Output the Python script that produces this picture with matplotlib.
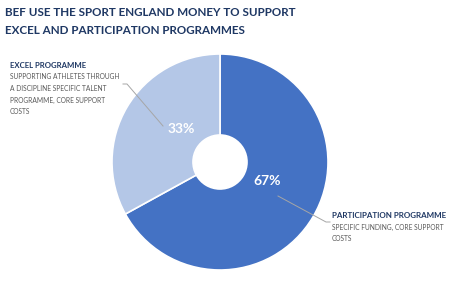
import matplotlib
matplotlib.use("Agg")
import matplotlib.pyplot as plt
from matplotlib.lines import Line2D

categories = ["PARTICIPATION PROGRAMME", "EXCEL PROGRAMME"]
values = [67, 33]
descriptions = [["SPECIFIC FUNDING, CORE SUPPORT", "COSTS"],
                ["SUPPORTING ATHLETES THROUGH", "A DISCIPLINE SPECIFIC TALENT",
                 "PROGRAMME, CORE SUPPORT", "COSTS"]]
title_lines = ["BEF USE THE SPORT ENGLAND MONEY TO SUPPORT",
               "EXCEL AND PARTICIPATION PROGRAMMES"]
colors = ["#4472C4", "#B4C7E7"]
navy = "#1F3864"
gray = "#595959"
font = "Lato"

W, H = 451, 286
fig = plt.figure(figsize=(W / 100, H / 100), dpi=100)
renderer = fig.canvas.get_renderer()

def fx(px):
    return px / W

def fy(py):
    return 1 - py / H

def fit(t, width_px):
    bb = t.get_window_extent(renderer=renderer)
    t.set_fontsize(t.get_fontsize() * width_px / bb.width)
    return t.get_fontsize()

# pie axes: centre (220,162), radius 108 px
ax = fig.add_axes([fx(112), fy(270), 216 / W, 216 / H])
wedges, _ = ax.pie(values, colors=colors, startangle=90, counterclock=False,
                   wedgeprops=dict(width=0.75, edgecolor="white", linewidth=1.2),
                   radius=1)
ax.set_xlim(-1, 1)
ax.set_ylim(-1, 1)
ax.set_aspect("equal")
ax.axis("off")

# percent labels
pct_pos = [(0.435, -0.18), (-0.355, 0.305)]
for v, (x, y) in zip(values, pct_pos):
    ax.text(x, y, f"{v}%", color="white", fontsize=10, fontweight="bold",
            ha="center", va="center", family=font)

# title
t1 = fig.text(fx(5), fy(13), title_lines[0], color=navy, fontsize=10, fontweight="bold",
              ha="left", va="center", family=font)
fs = fit(t1, 293)
fig.text(fx(5), fy(31), title_lines[1], color=navy, fontsize=fs, fontweight="bold",
         ha="left", va="center", family=font)

# Excel label
tb = fig.text(fx(10), fy(65), categories[1], color=navy, fontsize=6, fontweight="bold",
              ha="left", va="center", family=font)
fit(tb, 77)
ts = fig.text(fx(10), fy(77), descriptions[1][0], color=gray, fontsize=5,
              ha="left", va="center", family=font)
dfs = fit(ts, 111)
for i, line in enumerate(descriptions[1][1:], start=1):
    fig.text(fx(10), fy(77 + 11.5 * i), line, color=gray, fontsize=dfs,
             ha="left", va="center", family=font)

# Participation label
tb = fig.text(fx(332), fy(215), categories[0], color=navy, fontsize=6, fontweight="bold",
              ha="left", va="center", family=font)
fit(tb, 115)
for i, line in enumerate(descriptions[0]):
    fig.text(fx(332), fy(227 + 11.5 * i), line, color=gray, fontsize=dfs,
             ha="left", va="center", family=font)

# leader lines
lc = "#A6A6A6"
fig.add_artist(Line2D([fx(278), fx(326), fx(330)], [fy(196), fy(222), fy(222)],
                      color=lc, lw=0.7))
fig.add_artist(Line2D([fx(163), fx(127), fx(123)], [fy(126), fy(84), fy(84)],
                      color=lc, lw=0.7))

fig.savefig("out.png", dpi=100, facecolor="white")
